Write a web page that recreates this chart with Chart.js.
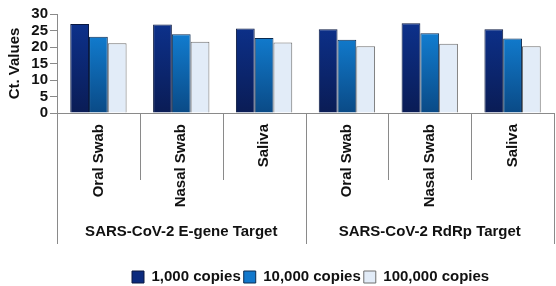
<!DOCTYPE html>
<html><head><meta charset="utf-8">
<script src="https://cdn.jsdelivr.net/npm/chart.js@4.4.1/dist/chart.umd.min.js"></script>
<style>html,body{margin:0;padding:0;background:#fff;}#wrap{width:556px;height:286px;position:relative;}</style>
</head><body><div id="wrap"><canvas id="c" width="556" height="286"></canvas></div>
<script>
const categories = ['Oral Swab','Nasal Swab','Saliva','Oral Swab','Nasal Swab','Saliva'];
const groups = ['SARS-CoV-2 E-gene Target','SARS-CoV-2 RdRp Target'];
const seriesNames = ['1,000 copies','10,000 copies','100,000 copies'];
const copies1000 = [27.0, 26.8, 25.6, 25.4, 27.2, 25.4];
const copies10000 = [23.1, 23.9, 22.7, 22.2, 24.2, 22.6];
const copies100000 = [21.1, 21.6, 21.4, 20.2, 21.0, 20.2];
const yTicks = [0,5,10,15,20,25,30];

const FONT = 'Arial, "Liberation Sans", sans-serif';
const CHART_BOTTOM = 113;
function grad(ctx, top, bottom){
  const ca = ctx.chart.chartArea;
  if(!ca) return top;
  const g = ctx.chart.ctx.createLinearGradient(0, ca.top, 0, ca.bottom);
  g.addColorStop(0, top); g.addColorStop(1, bottom);
  return g;
}
const solid = ['#0c2b7e','#1278cc','#e2ecf8'];
const borders = ['#0a1840','#0a2a50','#6e6e6e'];
const LEG_PAD = 3;

const groupPlugin = {
  id:'groups',
  beforeDraw(chart){
    const lg = chart.legend;
    if(lg && lg.lineWidths){
      const start = (lg.left + LEG_PAD + lg.right - lg.lineWidths[0]) / 2;
      const dx = 132 - start;
      lg.left += dx; lg.right += dx;
      const h = lg.height;
      lg.top = 277 - LEG_PAD - 7.5; lg.bottom = lg.top + h;
    }
  },
  afterDraw(chart){
    const x = chart.scales.x, ctx = chart.ctx;
    const top = chart.chartArea.bottom;
    const w = (x.right - x.left)/categories.length;
    ctx.save();
    ctx.strokeStyle = '#8a8a8a'; ctx.lineWidth = 1;
    for(let i=0;i<=categories.length;i++){
      const px = Math.round(x.left + i*w) + 0.5;
      const isGroup = (i % 3 === 0);
      ctx.beginPath(); ctx.moveTo(px, top); ctx.lineTo(px, isGroup ? top+131 : top+67); ctx.stroke();
    }
    ctx.fillStyle = '#111';
    ctx.font = 'bold 15px ' + FONT;
    ctx.textAlign = 'center'; ctx.textBaseline = 'middle';
    groups.forEach((g,gi)=>{
      const cx = x.left + (gi*3 + 1.5)*w;
      ctx.fillText(g, cx, top+119);
    });
    ctx.restore();
  }
};

new Chart(document.getElementById('c'), {
  type:'bar',
  data:{
    labels: categories,
    datasets:[
      {label:seriesNames[0], data:copies1000, backgroundColor:c=>grad(c,'#0d3391','#0a1c55'), borderColor:borders[0], borderWidth:1},
      {label:seriesNames[1], data:copies10000, backgroundColor:c=>grad(c,'#1389e2','#0a4a86'), borderColor:borders[1], borderWidth:1},
      {label:seriesNames[2], data:copies100000, backgroundColor:'#e2ecf8', borderColor:borders[2], borderWidth:1}
    ]
  },
  options:{
    responsive:false, animation:false,
    layout:{padding:{top:14,right:2,left:0,bottom:0}},
    datasets:{bar:{categoryPercentage:0.68, barPercentage:1.0}},
    plugins:{
      tooltip:{enabled:false},
      legend:{
        position:'bottom',
        labels:{
          font:{family:FONT, size:15, weight:'bold'}, color:'#111',
          boxWidth:12, boxHeight:12, padding:LEG_PAD,
          generateLabels(chart){
            return chart.data.datasets.map((d,i)=>({text:d.label, fillStyle:solid[i], strokeStyle:borders[i], lineWidth:1, datasetIndex:i, fontColor:'#111'}));
          }
        }
      }
    },
    scales:{
      x:{
        offset:true,
        grid:{display:false},
        border:{display:true, color:'#8a8a8a'},
        ticks:{font:{family:FONT, size:15, weight:'bold'}, color:'#111', maxRotation:90, minRotation:90, padding:3, autoSkip:false},
        afterFit(s){
          const lh = (s.chart.legend && s.chart.legend.height) ? s.chart.legend.height : 21;
          s.height = s.chart.height - CHART_BOTTOM - lh;
        }
      },
      y:{
        min:0, max:30,
        afterBuildTicks(s){ s.ticks = yTicks.map(v=>({value:v})); },
        grid:{drawOnChartArea:false, tickLength:7, color:'#8a8a8a'},
        border:{display:true, color:'#8a8a8a'},
        ticks:{font:{family:FONT, size:15, weight:'bold'}, color:'#111', padding:2, autoSkip:false},
        title:{display:true, text:'Ct. Values', font:{family:FONT, size:15, weight:'bold'}, color:'#111', padding:{top:6,bottom:3}},
        afterFit(s){ s.width = 57; }
      }
    }
  },
  plugins:[groupPlugin]
});
</script></body></html>
